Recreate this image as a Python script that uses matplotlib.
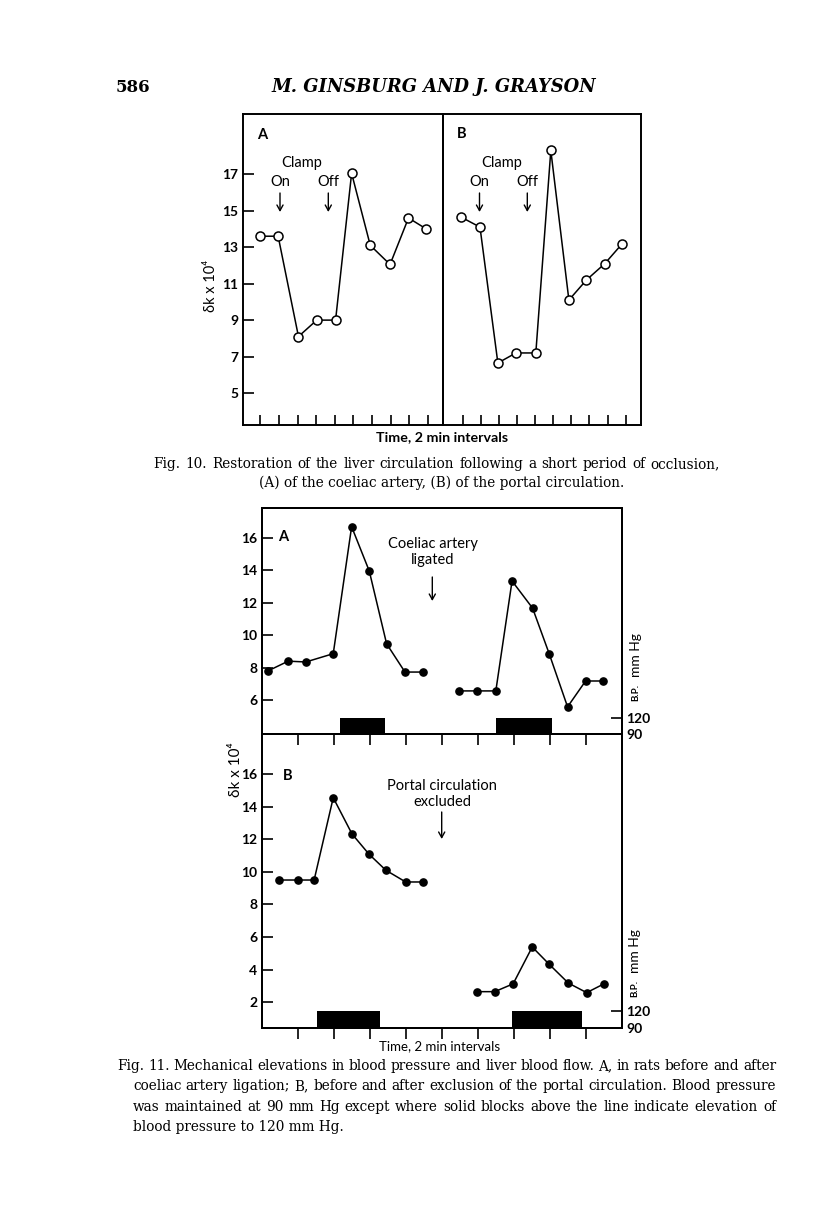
import matplotlib
matplotlib.use("Agg")
import matplotlib.pyplot as plt
from matplotlib.patches import FancyArrowPatch

# ---------------- data ----------------
# Fig. 10 (time in 2-min intervals, delta-k x 10^4)
fig10_ticks = [1, 2, 3, 4, 5, 6, 7, 8, 9, 10]
fig10_yticks = [5, 7, 9, 11, 13, 15, 17]
fig10_A_x = [1.0, 1.96, 3.05, 4.03, 5.04, 5.9, 6.9, 7.96, 8.95, 9.9]
fig10_A_y = [13.6, 13.6, 8.1, 9.0, 9.0, 17.05, 13.1, 12.05, 14.6, 14.0]
fig10_B_x = [0.87, 1.94, 2.93, 3.93, 5.03, 5.86, 6.86, 7.83, 8.85, 9.82]
fig10_B_y = [14.66, 14.1, 6.65, 7.2, 7.2, 18.3, 10.1, 11.2, 12.1, 13.2]

# Fig. 11
fig11_ticks = [1, 2, 3, 4, 5, 6, 7, 8, 9]
fig11_A_yticks = [6, 8, 10, 12, 14, 16]
fig11_B_yticks = [2, 4, 6, 8, 10, 12, 14, 16]
fig11_A1_x = [0.18, 0.74, 1.23, 1.99, 2.50, 2.99, 3.47, 3.98, 4.48]
fig11_A1_y = [7.8, 8.4, 8.35, 8.86, 16.67, 13.94, 9.47, 7.73, 7.73]
fig11_A2_x = [5.47, 5.97, 6.50, 6.95, 7.52, 7.98, 8.49, 8.99, 9.48]
fig11_A2_y = [6.57, 6.57, 6.57, 13.33, 11.66, 8.86, 5.59, 7.18, 7.18]
fig11_B1_x = [0.49, 1.0, 1.46, 1.99, 2.51, 2.98, 3.45, 4.0, 4.47]
fig11_B1_y = [9.5, 9.5, 9.5, 14.55, 12.33, 11.09, 10.1, 9.38, 9.38]
fig11_B2_x = [5.98, 6.47, 6.98, 7.51, 7.98, 8.51, 9.02, 9.5]
fig11_B2_y = [2.65, 2.65, 3.13, 5.39, 4.33, 3.18, 2.59, 3.13]
# blood pressure elevation blocks (start, end) in time units, 90 -> 120 mm Hg
bp_blocks_A = [(2.19, 3.42), (6.50, 8.07)]
bp_blocks_B = [(1.53, 3.28), (6.96, 8.88)]
bp_base, bp_high = 90, 120
bp_ticks = [90, 120]

# ---------------- figure ----------------
W, H = 816, 1221
fig = plt.figure(figsize=(W / 100, H / 100), dpi=100)
fig.patch.set_facecolor("white")

SANS = ["Lato", "DejaVu Sans"]
SERIF = ["DejaVu Serif"]
LW_AX = 1.4
LW_LN = 1.1


def box(l, r, t, b):
    return [l / W, 1 - b / H, (r - l) / W, (b - t) / H]


def ftext(x, y, s, **kw):
    kw.setdefault("ha", "center")
    kw.setdefault("va", "center")
    return fig.text(x / W, 1 - y / H, s, **kw)


def farrow(x, y0, y1):
    a = FancyArrowPatch((x / W, 1 - y0 / H), (x / W, 1 - y1 / H),
                        transform=fig.transFigure, arrowstyle="->,head_length=4,head_width=2.2",
                        lw=1.0, color="black", shrinkA=0, shrinkB=0)
    fig.add_artist(a)


renderer = fig.canvas.get_renderer()


def justify(x0, x1, y, s, **kw):
    words = s.split()
    arts = [ftext(x0, y, w, ha="left", **kw) for w in words]
    widths = [a.get_window_extent(renderer).width for a in arts]
    gap = max((x1 - x0 - sum(widths)) / max(len(words) - 1, 1), 2.0)
    x = x0
    for a, w in zip(arts, widths):
        a.set_x(x / W)
        x += w + gap


def style(ax, lw=LW_AX):
    for s in ax.spines.values():
        s.set_linewidth(lw)
    ax.set_facecolor("none")


# ---- Fig. 10 ----
ax10a = fig.add_axes(box(242.7, 443, 114, 425))
ax10b = fig.add_axes(box(443, 641, 114, 425))
for ax, xs, ys, xl in [(ax10a, fig10_A_x, fig10_A_y, (0.06, 10.8)),
                       (ax10b, fig10_B_x, fig10_B_y, (-0.106, 10.85))]:
    style(ax)
    ax.plot(xs, ys, "-o", color="black", lw=LW_LN, ms=6.5, mfc="white", mec="black", mew=1.1)
    ax.set_xlim(*xl)
    ax.set_ylim(3.25, 20.3)
    ax.set_xticks(fig10_ticks)
    ax.set_xticklabels([])
    ax.tick_params(axis="x", direction="in", length=7, width=1.2)
ax10a.set_yticks(fig10_yticks)
ax10a.set_yticklabels([str(v) for v in fig10_yticks], family=SANS, fontsize=10, fontweight="bold")
ax10a.tick_params(axis="y", direction="in", length=8, width=1.2, pad=3)
ax10b.set_yticks([])

ftext(262, 135, "A", family=SANS, fontsize=10.5, fontweight="bold")
ftext(462, 134, "B", family=SANS, fontsize=10.5, fontweight="bold")
for cx, onx, offx in [(302, 280, 328.3), (501.5, 479.5, 527.3)]:
    ftext(cx, 163, "Clamp", family=SANS, fontsize=10.5)
    ftext(onx, 182, "On", family=SANS, fontsize=10.5)
    ftext(offx, 182, "Off", family=SANS, fontsize=10.5)
    farrow(onx, 193, 212)
    farrow(offx, 193, 212)
ftext(211, 286, "δk x 10⁴", family=SANS, fontsize=10.5, rotation=90)
ftext(442, 437, "Time, 2 min intervals", family=SANS, fontsize=10.3, fontweight="bold")

# ---- Fig. 11 ----
ax11a = fig.add_axes(box(261.5, 622, 508, 734))
ax11b = fig.add_axes(box(261.5, 622, 734, 1028))
panels = [
    (ax11a, [(fig11_A1_x, fig11_A1_y), (fig11_A2_x, fig11_A2_y)], (3.92, 17.82), fig11_A_yticks, bp_blocks_A, 517.5),
    (ax11b, [(fig11_B1_x, fig11_B1_y), (fig11_B2_x, fig11_B2_y)], (0.42, 18.46), fig11_B_yticks, bp_blocks_B, 598),
]
for ax, series, yl, yt, blocks, bptop in panels:
    style(ax)
    for xs, ys in series:
        ax.plot(xs, ys, "-o", color="black", lw=LW_LN, ms=5.2, mfc="black", mec="black")
    ax.set_xlim(0, 10)
    ax.set_ylim(*yl)
    ax.set_xticks(fig11_ticks)
    ax.set_xticklabels([])
    ax.tick_params(axis="x", direction="out", length=8, width=1.2)
    ax.set_yticks(yt)
    ax.set_yticklabels([str(v) for v in yt], family=SANS, fontsize=10, fontweight="bold")
    ax.tick_params(axis="y", direction="in", length=8, width=1.2, pad=3)
    tw = ax.twinx()
    tw.set_ylim(bp_base, bptop)
    for x0, x1 in blocks:
        tw.bar((x0 + x1) / 2, bp_high - bp_base, width=x1 - x0, bottom=bp_base,
               color="black", edgecolor="black", linewidth=0)
    tw.set_yticks(bp_ticks)
    tw.set_yticklabels([str(v) for v in bp_ticks], family=SANS, fontsize=10, fontweight="bold")
    tw.tick_params(axis="y", direction="in", length=8, width=1.2, pad=3)
    tw.set_xlim(0, 10)
    for s in tw.spines.values():
        s.set_linewidth(LW_AX)

ftext(283, 537, "A", family=SANS, fontsize=10.5, fontweight="bold")
ftext(288, 776, "B", family=SANS, fontsize=10.5, fontweight="bold")
ftext(433, 552, "Coeliac artery\nligated", family=SANS, fontsize=10.5, linespacing=1.15)
farrow(432.3, 577, 601)
ftext(442, 794, "Portal circulation\nexcluded", family=SANS, fontsize=10.5, linespacing=1.15)
farrow(441.7, 812, 839)
ftext(236, 770, "δk x 10⁴", family=SANS, fontsize=11, rotation=90)
for bx, ybp, ymm in [(636, 692, 655), (635, 988, 951)]:
    ftext(bx, ybp, "B.P.", family=SANS, fontsize=7, fontweight="bold", rotation=90)
    ftext(bx, ymm, "mm Hg", family=SANS, fontsize=10, rotation=90)
ftext(440, 1046, "Time, 2 min intervals", family=SANS, fontsize=9.5)

# ---- page text ----
ftext(133, 87, "586", family=SERIF, fontsize=12, fontweight="bold")
ftext(434, 87, "M. GINSBURG AND J. GRAYSON", family=SERIF, fontsize=12.9,
      fontweight="bold", style="italic")
CAP = dict(family=SERIF, fontsize=9.85)
justify(153, 720, 464, "Fig. 10.  Restoration of the liver circulation following a short period of occlusion,", **CAP)
ftext(442, 483, "(A) of the coeliac artery, (B) of the portal circulation.", **CAP)
justify(117, 776, 1066, "Fig. 11.  Mechanical elevations in blood pressure and liver blood flow.  A, in rats before and after", **CAP)
justify(133, 776, 1086, "coeliac artery ligation; B, before and after exclusion of the portal circulation.  Blood pressure", **CAP)
justify(133, 776, 1107, "was maintained at 90 mm Hg except where solid blocks above the line indicate elevation of", **CAP)
ftext(133, 1127, "blood pressure to 120 mm Hg.", ha="left", **CAP)

fig.savefig("out.png", dpi=100, facecolor="white")
